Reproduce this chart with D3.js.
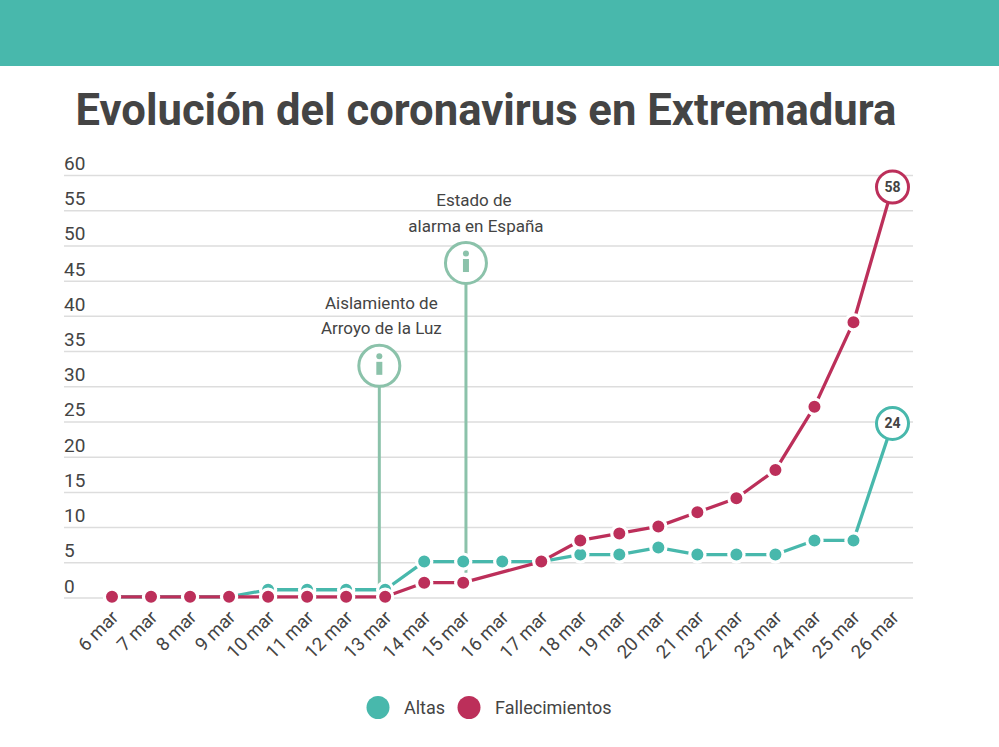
<!DOCTYPE html>
<html><head><meta charset="utf-8">
<script src="https://cdn.jsdelivr.net/npm/d3@7"></script>
<style>html,body{margin:0;padding:0;background:#fff}svg{display:block}text{font-family:Roboto,sans-serif}</style>
</head><body><svg id="c" width="999" height="747"></svg>
<script>
const days = ["6 mar","7 mar","8 mar","9 mar","10 mar","11 mar","12 mar","13 mar","14 mar","15 mar","16 mar","17 mar","18 mar","19 mar","20 mar","21 mar","22 mar","23 mar","24 mar","25 mar","26 mar"];
const altas = [0,0,0,0,1,1,1,1,5,5,5,5,6,6,7,6,6,6,8,8,24];
const fallecimientos = [0,0,0,0,0,0,0,0,2,2,null,5,8,9,10,12,14,18,27,39,58];
const yTicks = [0,5,10,15,20,25,30,35,40,45,50,55,60];
const notes = [
  {day:6.85, top:32.9, base:1, lines:["Aislamiento de","Arroyo de la Luz"], shift:[2,2]},
  {day:9.07, top:47.5, base:3.5, lines:["Estado de","alarma en España"], shift:[8,10]}
];
const teal="#48b8ac", red="#bc2f5a", green="#8bc2aa", ink="#444444";
const svg=d3.select("#c");
svg.append("rect").attr("width",999).attr("height",66).attr("fill",teal);
svg.append("text").attr("x",486).attr("y",124.5).attr("text-anchor","middle").attr("font-size",43.6).attr("font-weight",700).attr("fill",ink).text("Evolución del coronavirus en Extremadura");

const x=d3.scaleLinear().domain([0,days.length-1]).range([112,892.5]);
const y=d3.scaleLinear().domain([0,60]).range([597.5,175]);

const gy=svg.append("g").attr("transform","translate(913,0)")
  .call(d3.axisLeft(y).tickValues(yTicks).tickSize(849).tickFormat(d3.format("d")));
gy.select(".domain").remove();
gy.selectAll("line").attr("stroke","#dddddd").attr("stroke-width",1.5);
gy.selectAll("text").attr("text-anchor","start").attr("x",-849).attr("dy",-5.5)
  .attr("font-size",19).attr("fill",ink).attr("font-family","Roboto");

const gx=svg.append("g").attr("transform","translate(0,597.5)")
  .call(d3.axisBottom(x).tickValues(d3.range(days.length)).tickSize(0).tickFormat(i=>days[i]));
gx.select(".domain").remove();
gx.selectAll("text").attr("text-anchor","end").attr("font-size",18.6).attr("fill",ink).attr("font-family","Roboto")
  .attr("dy",0).attr("y",0).attr("dx",0)
  .attr("transform","translate(7,21) rotate(-45)");

function series(a,color,lift){
  const p=a.map((v,i)=>({i,v})).filter(d=>d.v!==null);
  const last=p[p.length-1];
  const py=d=>y(d.v)-(d===last?lift:0);
  const line=d3.line().x(d=>x(d.i)).y(py);
  const g=svg.append("g").attr("transform","translate(0,-0.7)");
  g.append("path").datum(p).attr("d",line).attr("fill","none").attr("stroke",color).attr("stroke-width",3.3).attr("stroke-linejoin","round");
  g.selectAll("circle").data(p.slice(0,-1)).join("circle").attr("cx",d=>x(d.i)).attr("cy",py).attr("r",7.6)
    .attr("fill",color).attr("stroke","#fff").attr("stroke-width",3.2);
  g.append("circle").attr("cx",x(last.i)).attr("cy",py(last)).attr("r",16).attr("fill","#fff").attr("stroke",color).attr("stroke-width",3);
  g.append("text").attr("x",x(last.i)).attr("y",py(last)+5).attr("text-anchor","middle").attr("font-size",14).attr("font-weight",700).attr("fill",ink).text(last.v);
}

// annotation stems sit behind the series
notes.forEach(n=>{
  svg.append("line").attr("x1",x(n.day)).attr("x2",x(n.day)).attr("y1",y(n.top)).attr("y2",y(n.base)).attr("stroke",green).attr("stroke-width",3);
});

series(altas,teal,4.3);
series(fallecimientos,red,1.3);

notes.forEach(n=>{
  const cx=x(n.day), cy=y(n.top);
  const g=svg.append("g");
  g.append("circle").attr("cx",cx).attr("cy",cy).attr("r",20.5).attr("fill","#fff").attr("stroke",green).attr("stroke-width",3);
  g.append("circle").attr("cx",cx).attr("cy",cy-9.5).attr("r",3).attr("fill",green);
  g.append("rect").attr("x",cx-3).attr("y",cy-4).attr("width",6).attr("height",13).attr("fill",green);
  n.lines.forEach((t,k)=>{
    g.append("text").attr("x",cx+n.shift[k]).attr("y",cy-57+k*25.5).attr("text-anchor","middle").attr("font-size",17).attr("font-weight",400).attr("fill",ink).text(t);
  });
});

const leg=svg.append("g");
[["Altas",teal,378,404],["Fallecimientos",red,469,495]].forEach(([t,c,cx,tx])=>{
  leg.append("circle").attr("cx",cx).attr("cy",707.5).attr("r",11.5).attr("fill",c);
  leg.append("text").attr("x",tx).attr("y",713.5).attr("font-size",18).attr("font-weight",400).attr("fill",ink).text(t);
});
</script></body></html>
